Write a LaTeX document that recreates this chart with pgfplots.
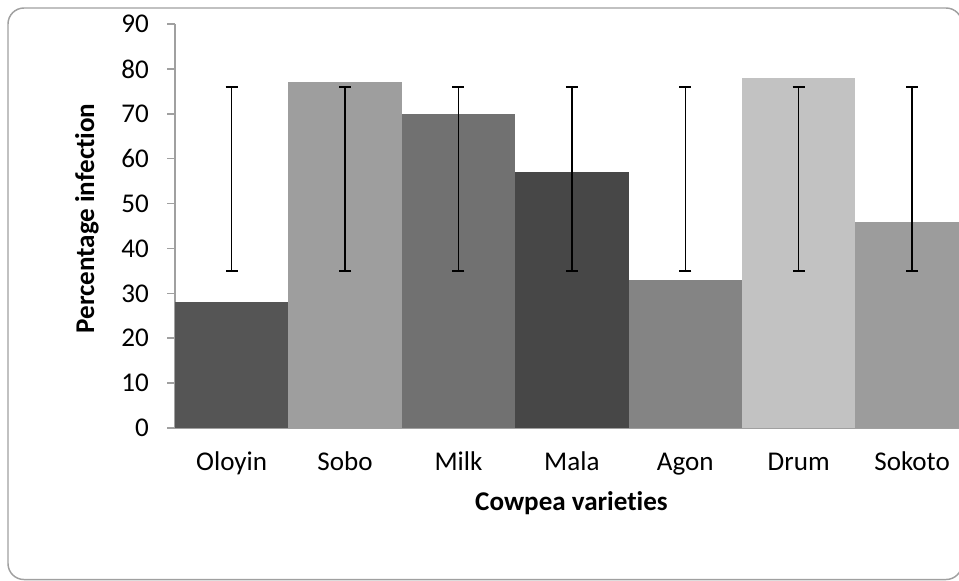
\documentclass[border=0pt]{standalone}
\usepackage{pgfplots}
\pgfplotsset{compat=1.18}
\usepackage{fontspec}
\setmainfont{Carlito}[Ligatures=NoCommon]
\definecolor{c1}{RGB}{85,85,85}
\definecolor{c2}{RGB}{158,158,158}
\definecolor{c3}{RGB}{113,113,113}
\definecolor{c4}{RGB}{71,71,71}
\definecolor{c5}{RGB}{132,132,132}
\definecolor{c6}{RGB}{194,194,194}
\definecolor{c7}{RGB}{156,156,156}
\definecolor{axgray}{RGB}{160,160,160}
\begin{document}
\begin{tikzpicture}
\useasboundingbox (0,0) rectangle (719.25pt,435.75pt);
\draw[axgray, line width=1.1pt, rounded corners=12pt] (6pt,1.1pt) rectangle (721.5pt,429.75pt);
\begin{axis}[
  at={(131.25pt,114.75pt)}, anchor=south west,
  scale only axis, width=588pt, height=303pt,
  xmin=-0.5, xmax=6.414, ymin=0, ymax=90,
  axis x line*=bottom, axis y line*=left,
  axis line style={axgray, line width=1.3pt, -},
  xtick={0,1,2,3,4,5,6},
  xticklabels={Oloyin,Sobo,Milk,Mala,Agon,Drum,Sokoto},
  ytick={0,10,...,90},
  x tick style={draw=none},
  y tick style={axgray, line width=1.1pt},
  ytick align=outside, major tick length=6pt,
  tick label style={font=\fontsize{20.3}{24}\selectfont, black},
  /pgf/number format/assume math mode=true,
  xticklabel style={anchor=base, yshift=-31.9pt},
  yticklabel style={anchor=east, inner sep=0pt, xshift=-13.5pt},
  xlabel={\bfseries Cowpea varieties},
  ylabel={\bfseries Percentage infection},
  label style={font=\fontsize{20.3}{24}\selectfont},
  xlabel style={at={(axis description cs:0.5057,-0.203)}, anchor=base},
  ylabel style={at={(axis description cs:-0.1033,0.5186)}, anchor=base},
  bar width=1, bar shift=0pt,
]
\addplot[ybar, fill=c1, draw=none] coordinates {(0,28)};
\addplot[ybar, fill=c2, draw=none] coordinates {(1,77)};
\addplot[ybar, fill=c3, draw=none] coordinates {(2,70)};
\addplot[ybar, fill=c4, draw=none] coordinates {(3,57)};
\addplot[ybar, fill=c5, draw=none] coordinates {(4,33)};
\addplot[ybar, fill=c6, draw=none] coordinates {(5,78)};
\addplot[ybar, fill=c7, draw=none] coordinates {(6,46)};
\addplot[draw=none, mark=none,
  error bars/.cd, y dir=both, y explicit,
  error bar style={draw=black, line width=1.1pt},
  error mark options={draw=black, rotate=90, mark size=4.5pt, line width=1.1pt}]
  coordinates {(0,55.5) +- (0,20.5) (1,55.5) +- (0,20.5) (2,55.5) +- (0,20.5)
               (3,55.5) +- (0,20.5) (4,55.5) +- (0,20.5) (5,55.5) +- (0,20.5)
               (6,55.5) +- (0,20.5)};
\end{axis}
\end{tikzpicture}
\end{document}
